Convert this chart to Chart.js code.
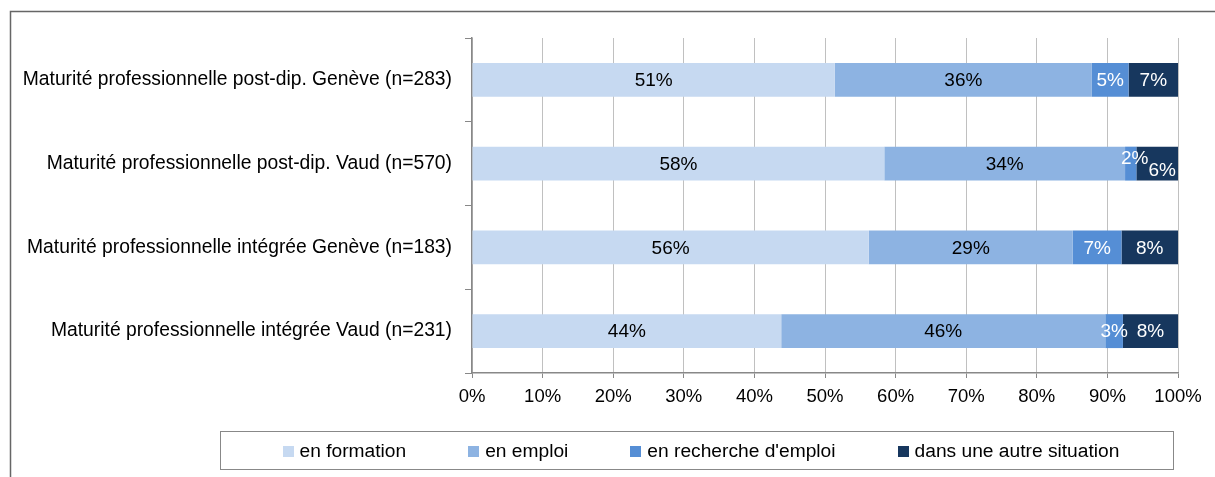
<!DOCTYPE html>
<html>
<head>
<meta charset="utf-8">
<script src="https://cdn.jsdelivr.net/npm/chart.js@4.4.1/dist/chart.umd.min.js"></script>
<style>
    html, body { margin: 0; padding: 0; background: #fff; }
    #wrap { position: relative; width: 1215px; height: 477px; }
</style>
</head>
<body>
<div id="wrap"><canvas id="bar-chart"></canvas></div>
<script>
// categories and values (percent of each group)
var categories = [
    "Maturité professionnelle post-dip. Genève (n=283)",
    "Maturité professionnelle post-dip. Vaud (n=570)",
    "Maturité professionnelle intégrée Genève (n=183)",
    "Maturité professionnelle intégrée Vaud (n=231)"
];
var seriesNames = ["en formation", "en emploi", "en recherche d'emploi", "dans une autre situation"];
var enFormation = [51.4, 58.4, 56.2, 43.8];
var enEmploi = [36.4, 34.1, 28.9, 45.9];
var enRecherche = [5.2, 1.6, 6.9, 2.5];
var autreSituation = [7.0, 5.9, 8.0, 7.8];
var xTickLabels = ["0%", "10%", "20%", "30%", "40%", "50%", "60%", "70%", "80%", "90%", "100%"];

var colors = ["#c6d9f1", "#8db3e2", "#558ed5", "#17375e"];
var labelColors = ["#000", "#000", "#fff", "#fff"];
var font = "'Liberation Sans', Arial, sans-serif";

// frame around the whole figure (top and left edges only visible)
var framePlugin = {
    id: "frame",
    beforeDraw: function (chart) {
        var ctx = chart.ctx;
        ctx.save();
        ctx.strokeStyle = "#666";
        ctx.lineWidth = 1.5;
        ctx.beginPath();
        ctx.moveTo(10.5, chart.height);
        ctx.lineTo(10.5, 11.5);
        ctx.lineTo(chart.width, 11.5);
        ctx.stroke();
        ctx.restore();
    }
};

// legend in a box under the x axis, like the Excel one
var boxLegend = {
    id: "boxLegend",
    afterDraw: function (chart) {
        var ctx = chart.ctx;
        var ds = chart.data.datasets;
        var gap = 62, marker = 11, textOff = 17;
        ctx.save();
        ctx.font = "19.2px " + font;
        var widths = ds.map(function (d) { return textOff + ctx.measureText(d.label).width; });
        var total = widths.reduce(function (a, b) { return a + b; }, 0) + gap * (ds.length - 1);
        var boxLeft = 220.5, boxTop = 431.5, boxH = 38;
        var boxW = total + 62 + 54;
        ctx.strokeStyle = "#888";
        ctx.lineWidth = 1;
        ctx.strokeRect(boxLeft, boxTop, Math.round(boxW), boxH);
        var x = boxLeft + 62;
        var cy = boxTop + boxH / 2;
        ctx.textBaseline = "middle";
        ctx.textAlign = "left";
        ds.forEach(function (d, i) {
            ctx.fillStyle = d.backgroundColor;
            ctx.fillRect(Math.round(x), Math.round(cy - 5), marker, marker);
            ctx.fillStyle = "#000";
            ctx.fillText(d.label, x + textOff, cy + 1);
            x += widths[i] + gap;
        });
        ctx.restore();
    }
};

// percent labels inside the bar segments
var valueLabels = {
    id: "valueLabels",
    afterDatasetsDraw: function (chart) {
        var ctx = chart.ctx;
        ctx.save();
        ctx.font = "19px " + font;
        ctx.textAlign = "center";
        ctx.textBaseline = "middle";
        var nudge = {};
        chart.data.datasets.forEach(function (ds, i) {
            var meta = chart.getDatasetMeta(i);
            meta.data.forEach(function (bar, j) {
                var v = ds.data[j];
                var dx = 0, dy = 0;
                if (nudge[j]) { dx = 5; dy = 6; nudge[j] = false; }
                if (Math.abs(bar.x - bar.base) < 14) { dx = 4; dy = -6; nudge[j] = true; }
                ctx.fillStyle = labelColors[i];
                ctx.fillText(Math.round(v) + "%", (bar.x + bar.base) / 2 + dx, bar.y + 1 + dy);
            });
        });
        ctx.restore();
    }
};

var seriesData = [enFormation, enEmploi, enRecherche, autreSituation];

new Chart(document.getElementById("bar-chart"), {
    type: "bar",
    data: {
        labels: categories,
        datasets: seriesData.map(function (d, i) {
            return {
                label: seriesNames[i],
                data: d,
                backgroundColor: colors[i],
                borderWidth: 0,
                categoryPercentage: 1,
                barPercentage: 0.405
            };
        })
    },
    options: {
        indexAxis: "y",
        responsive: true,
        maintainAspectRatio: false,
        animation: false,
        layout: { padding: { top: 38, right: 37, left: 0, bottom: 59 } },
        plugins: {
            legend: { display: false },
            tooltip: { enabled: false }
        },
        scales: {
            x: {
                stacked: true,
                min: 0,
                max: 100,
                ticks: {
                    stepSize: 10,
                    color: "#000",
                    font: { family: font, size: 18.5 },
                    padding: 8,
                    maxRotation: 0,
                    callback: function (v, idx) { return xTickLabels[idx]; }
                },
                grid: { color: "#c0c0c0", tickColor: "#888", tickLength: 5 },
                border: { color: "#888", width: 1.5 },
                afterFit: function (scale) { scale.height = 45; }
            },
            y: {
                stacked: true,
                ticks: {
                    color: "#000",
                    font: { family: font, size: 19.3 },
                    padding: 13
                },
                grid: { offset: true, drawOnChartArea: false, tickColor: "#888", tickLength: 7 },
                border: { color: "#888", width: 1.5 },
                afterFit: function (scale) { scale.width = 472; }
            }
        }
    },
    plugins: [framePlugin, boxLegend, valueLabels]
});
</script>
</body>
</html>
